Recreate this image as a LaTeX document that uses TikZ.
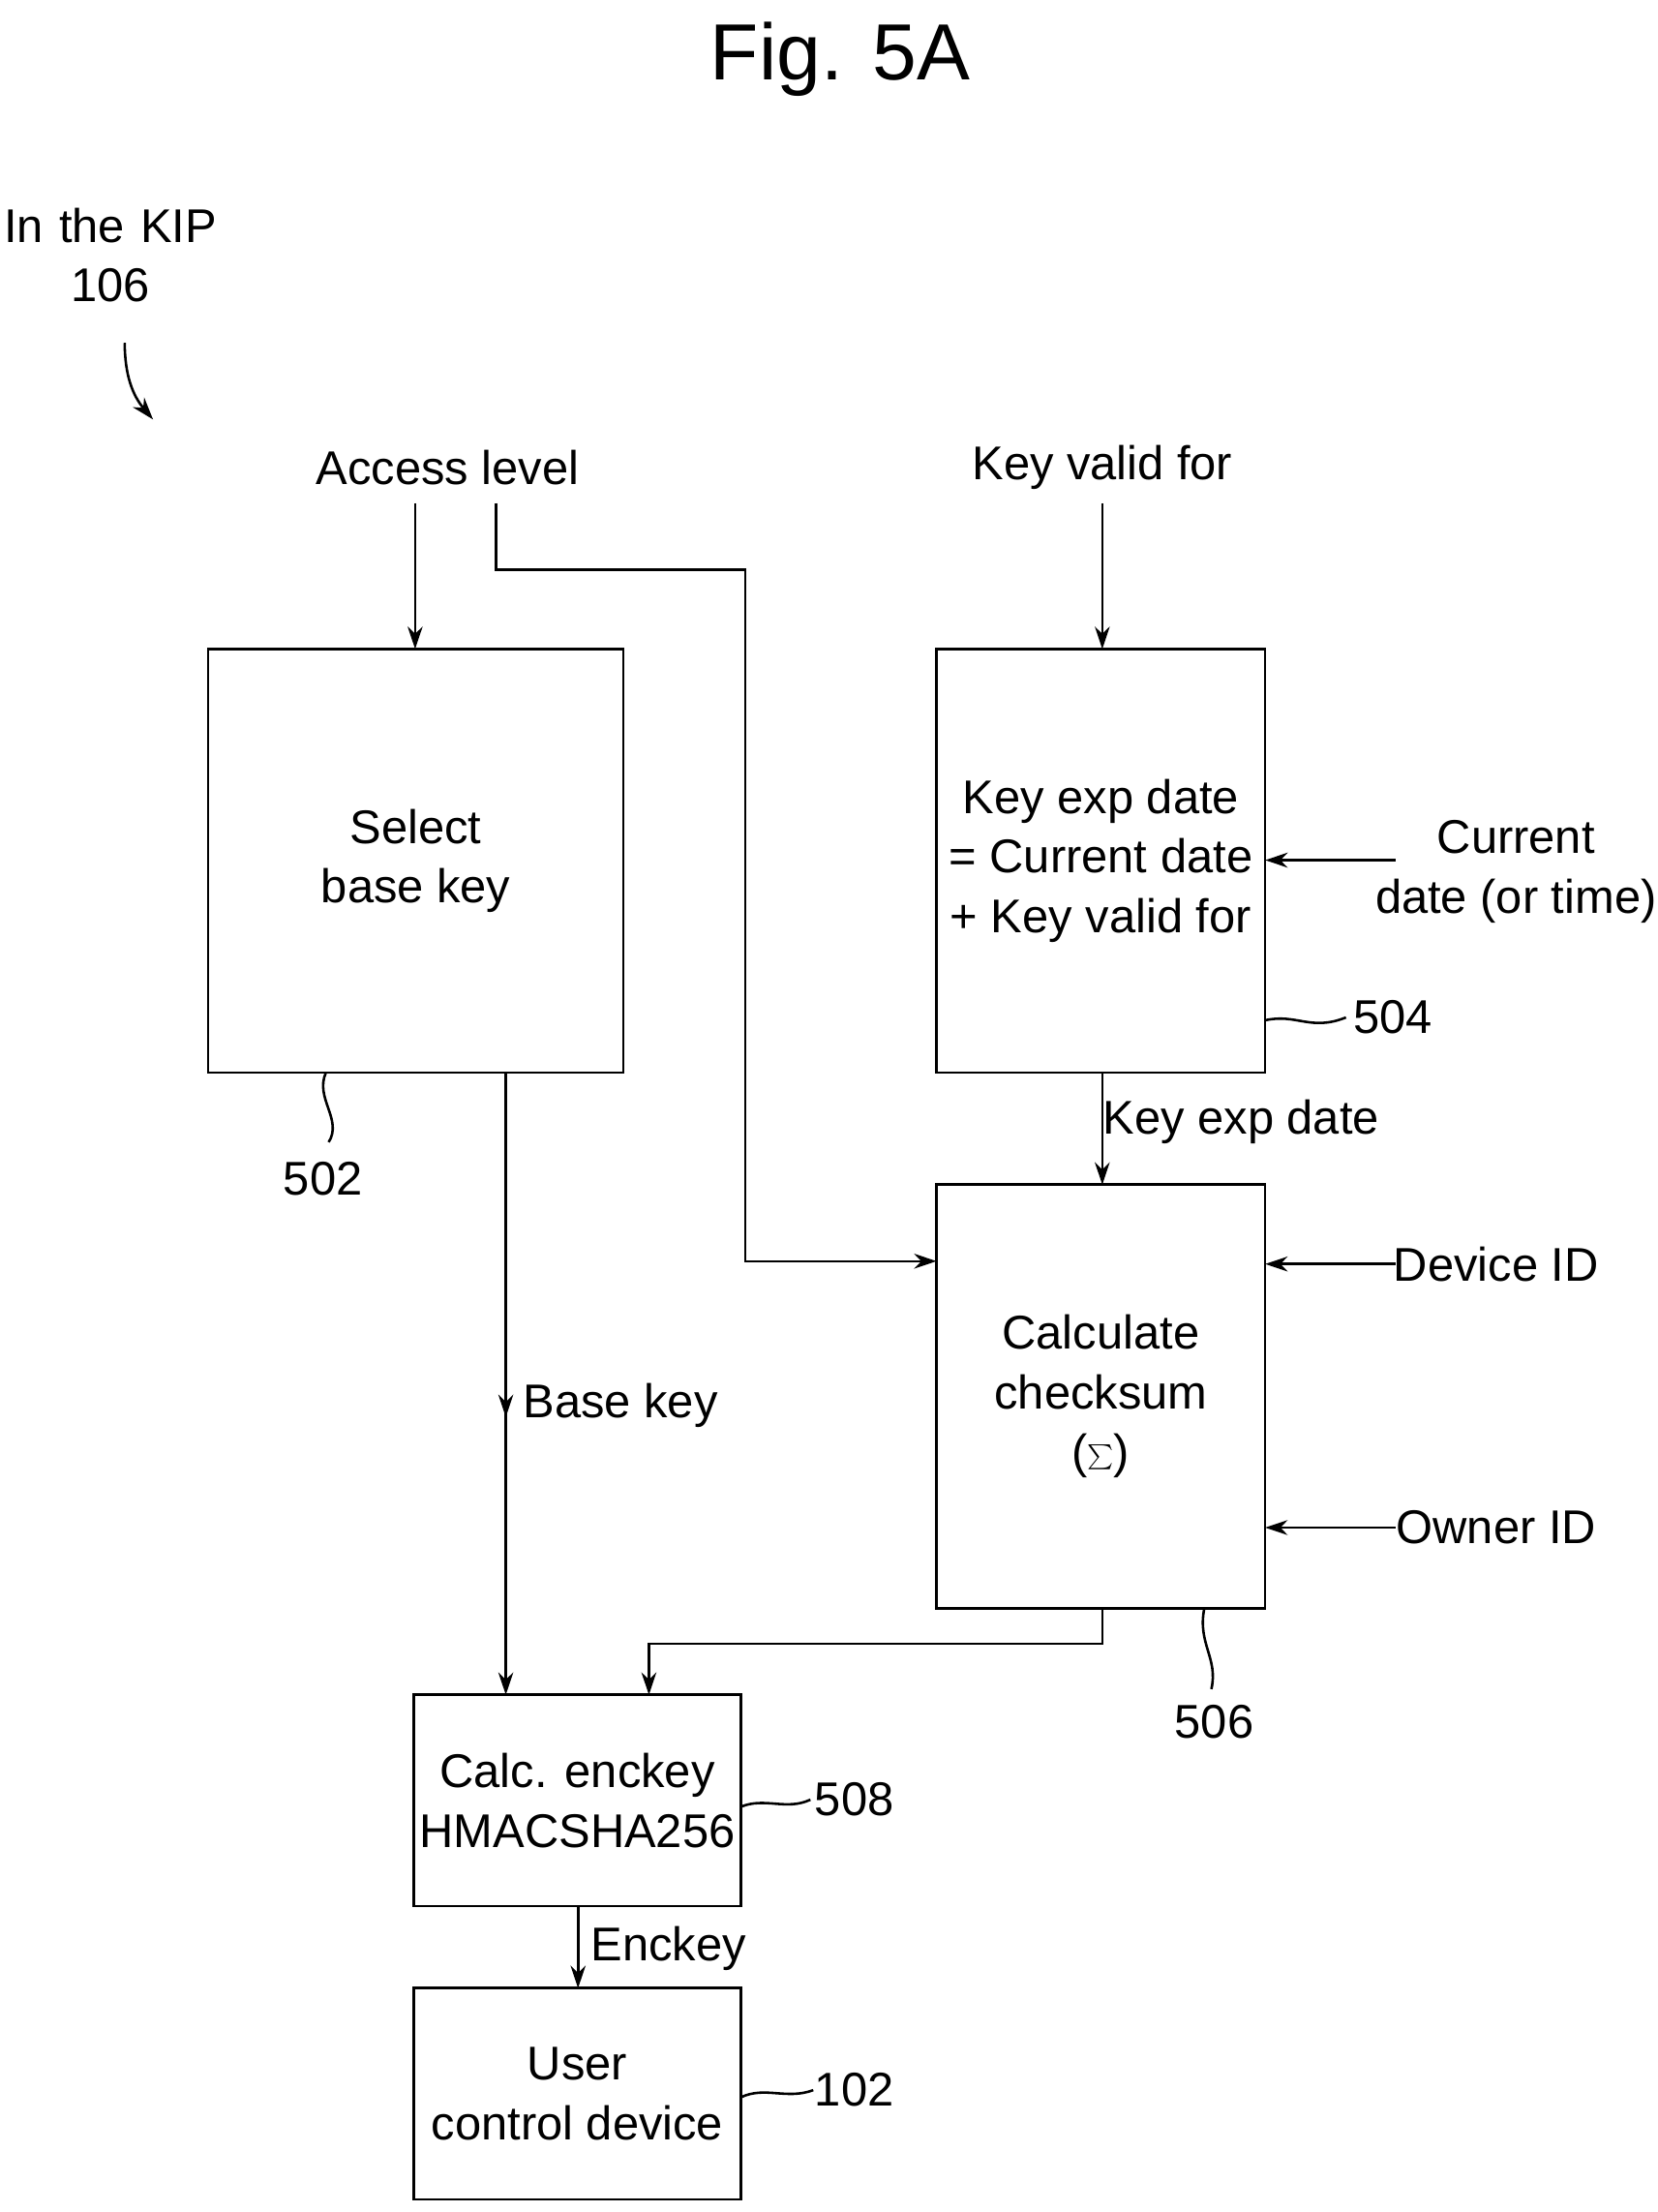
\documentclass[tikz,border=0pt]{standalone}
\usepackage{fontspec}
\setmainfont{Liberation Sans}
\usetikzlibrary{arrows.meta}
\begin{document}
\begin{tikzpicture}[x=0.02cm,y=-0.02cm,
  box/.style={draw,line width=1pt},
  txt/.style={font=\fontsize{19}{24}\selectfont,align=center,inner sep=0pt},
  ar/.style={draw,line width=1pt,-{Stealth[length=9pt,width=6pt]}},
  ln/.style={draw,line width=1pt}]
\useasboundingbox (0,0) rectangle (1170,1561);
\node[txt,font=\fontsize{32}{38}\selectfont] (title) at (593,42) {Fig. 5A};
\node[txt,text width=5cm] (kip) at (78,180) {In the KIP\\106};
\coordinate (k1) at (88,242); \coordinate (k2) at (108,296);
\draw[ar] (k1) to[bend right=20] (k2);

\draw[box] (147,458) rectangle (440,757) node[txt,midway] (b502) {Select\\base key};
\draw[box] (661,458) rectangle (893,757) node[txt,midway] (b504) {Key exp date\\= Current date\\+ Key valid for};
\draw[box] (661,836) rectangle (893,1135) node[txt,midway] (b506) {Calculate\\checksum\\($\sum$)};
\draw[box] (292,1196) rectangle (523,1345) node[txt,midway] (b508) {Calc. enckey\\HMACSHA256};
\draw[box] (292,1403) rectangle (523,1552) node[txt,midway] (b102) {User\\control device};

\node[txt] (acc) at (316,330) {Access level};
\node[txt] (kvf) at (778,330) {Key valid for};
\node[txt] (cur) at (1070,615) {Current\\date (or time)};
\node[txt] (dev) at (1056,892) {Device ID};
\node[txt] (own) at (1056,1078) {Owner ID};
\node[txt] (kexp) at (876,792) {Key exp date};
\node[txt] (bk) at (438,992) {Base key};
\node[txt] (enk) at (472,1375) {Enckey};
\node[txt] (n504) at (983,718) {504};
\node[txt] (n506) at (857,1215) {506};
\node[txt] (n502) at (228,832) {502};
\node[txt] (n508) at (603,1270) {508};
\node[txt] (n102) at (603,1475) {102};

\draw[ar] (293,355) -- (293,458);
\draw[ar] (350,355) -- (350,402) -- (526,402) -- (526,890) -- (661,890);
\draw[ar] (778,355) -- (778,458);
\draw[ar] (985,607) -- (893,607);
\draw[ar] (985,892) -- (893,892);
\draw[ar] (985,1078) -- (893,1078);
\draw[ar] (778,757) -- (778,836);
\draw[ar] (357,757) -- (357,1000);
\draw[ar] (357,990) -- (357,1196);
\draw[ar] (778,1135) -- (778,1160) -- (458,1160) -- (458,1196);
\draw[ar] (408,1345) -- (408,1403);

\draw[ln] (893,720) .. controls (915,715) and (925,728) .. (950,718);
\draw[ln] (850,1135) .. controls (845,1160) and (860,1170) .. (855,1192);
\draw[ln] (230,757) .. controls (222,775) and (242,790) .. (232,806);
\draw[ln] (523,1275) .. controls (540,1268) and (555,1278) .. (572,1270);
\draw[ln] (523,1480) .. controls (540,1472) and (555,1482) .. (574,1475);
\end{tikzpicture}
\end{document}
